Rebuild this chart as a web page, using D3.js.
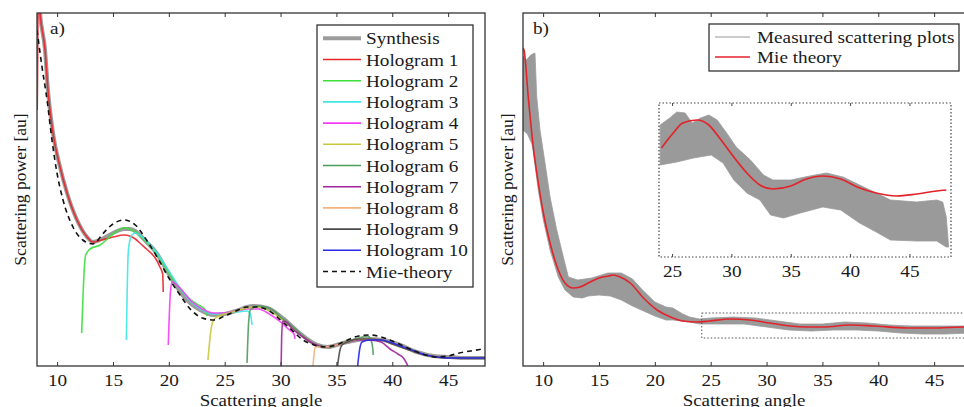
<!DOCTYPE html>
<html><head><meta charset="utf-8">
<script src="https://cdn.jsdelivr.net/npm/d3@7"></script>
</head><body style="margin:0">
<svg id="c" width="964" height="407"></svg>
<script>
// ---------------- DATA ----------------
const xTicks = [10, 15, 20, 25, 30, 35, 40, 45];
const insetTicks = [25, 30, 35, 40, 45];
const xLabel = "Scattering angle";
const yLabel = "Scattering power [au]";

// Panel a: [angle, scattering power (au)]
const synthesis = [[8.3,381],[8.47,353],[8.92,316],[9.18,276],[9.63,233],[10.26,199],[10.89,173],[11.78,146],[12.68,129],[13.2,124],[14,127],[15,133],[16,137],[16.5,137],[17,135],[17.5,130],[18,124],[18.9,113],[19.8,96],[20.7,79],[21.6,66],[22.8,56],[24,51],[25,52],[26,55],[27,59],[27.5,60],[28.8,58],[30.2,48],[31.7,33],[33.3,21],[34.2,19],[35.6,23],[37.7,27],[39.2,26],[40.7,21],[42.2,14],[43.7,10],[45.2,9],[46.5,8],[48.3,8]];
const mieA = [[8.2,336],[8.65,299],[9.1,266],[9.54,226],[9.99,193],[10.53,166],[11.42,139],[12.3,126],[13.2,122],[13.5,124],[14,131],[15,142],[16,146],[17,141],[18,126],[19,108],[20,88],[21,71],[22,56],[23,48],[24,46],[25,50],[26,55],[27,59],[28,59],[29,55],[30,46],[31,36],[32,26],[33,21],[34,19],[35,21],[36,26],[37,30],[38,31],[39,29],[40,25],[41,20],[42,15],[43,11],[44,9],[45,10],[46,13],[47,15],[48,17],[48.3,18]];
const hologram1 = [[8.22,256],[8.27,320],[8.3,381],[8.47,353],[8.92,316],[9.18,276],[9.63,233],[10.26,199],[10.89,173],[11.78,146],[12.68,129],[13.2,124],[14,126],[15,129],[16,131],[16.5,130],[17,127],[17.5,122],[18,117],[18.9,106],[19.2,99],[19.45,92],[19.5,74]];
const hologram2 = [[12.2,33],[12.45,100],[12.55,111],[12.95,117],[13.85,121],[15,132],[16,138],[17,134],[18,124],[19,111],[20,93],[21,77],[22,66],[22.5,62],[23.2,57],[23.45,50]];
const hologram3 = [[16.2,26],[16.35,110],[16.45,122],[16.7,131],[17,133],[18,125],[19,112],[20,95],[21,78],[22,64],[23,56],[24,52],[25,53],[26,54],[27,55],[27.3,52],[27.45,41]];
const hologram4 = [[19.95,21],[20.15,75],[20.3,84],[21,78],[22,65],[23,57],[24,53],[25,53],[26,55],[27,57],[28,57],[29,52],[30,44],[30.8,36],[31.2,32],[31.3,27]];
const hologram5 = [[23.5,6],[23.8,38],[24.0,46],[24.3,49],[25,52],[26,55],[27,58],[28,59],[29,55],[30,48],[31,38],[32,29],[33,22],[34,19],[35,21]];
const hologram6 = [[27.0,3],[27.15,45],[27.3,56],[28,60],[29,58],[30,49],[31,40],[32,30],[33,22],[34,19],[35,21],[36,25],[37,28],[37.8,30],[38.1,26],[38.25,18],[38.3,11]];
const hologram7 = [[30.05,0],[30.1,30],[30.2,45],[30.5,44],[31,38],[32,29],[33,22],[34,19],[35,21],[36,24],[37,26],[38,26],[39,24],[39.8,17],[40.5,12],[41.0,8],[41.4,0]];
const hologram8 = [[32.9,0],[33.0,12],[33.1,19],[34,19],[35,21],[36,24],[37,27],[38,27],[39,26],[40,22],[41,18],[42,14],[43,11],[44,9],[44.3,8]];
const hologram9 = [[35.1,0],[35.3,15],[35.5,21],[36,24],[37,27],[38,27],[39,26],[40,22],[41,18],[42,14],[43,11],[44,9],[45,8],[46,8],[47,8],[48.3,8]];
const hologram10 = [[36.9,0],[37.1,18],[37.3,24],[38,26],[39,26],[40,23],[41,19],[42,15],[43,11],[44,9],[45,8],[46,8],[47,8],[48.3,8]];
const holograms = [hologram1,hologram2,hologram3,hologram4,hologram5,hologram6,hologram7,hologram8,hologram9,hologram10];
const legendA = ["Synthesis","Hologram 1","Hologram 2","Hologram 3","Hologram 4","Hologram 5","Hologram 6","Hologram 7","Hologram 8","Hologram 9","Hologram 10","Mie-theory"];

// Panel b: Mie theory and envelope of measured plots
const mieB = [[8.2,318],[8.29,316],[8.67,269],[9.12,219],[9.57,183],[10.02,153],[10.62,123],[11.36,96],[11.96,83],[12.7,78],[13.3,79],[14.05,83],[15.0,88],[15.84,90],[16.3,91],[16.9,89],[17.8,83],[18.9,69],[20.2,56],[21.4,49],[22.5,45],[23.8,44],[24.9,45],[26.7,47],[28.5,46],[30.3,43],[32.1,40],[33.6,39],[35.1,39],[37.5,41],[39.6,40],[42.6,38],[44.9,38],[47.6,39],[48.3,39]];
const measuredUpper = [[8.2,310],[8.5,306],[8.9,311],[9.27,313],[9.43,269],[9.72,236],[10.17,203],[10.62,169],[11.22,136],[11.81,109],[12.26,89],[13.1,86],[14.35,88],[15.8,93],[17.0,93],[18.0,87],[18.9,76],[20.0,64],[21.0,59],[21.6,58],[22.5,52],[23.1,49],[24.0,47],[25,48],[27,49],[29,48],[31,45],[33,42],[35,42],[37,44],[39,43],[41,41],[43,40],[45,40],[48.3,40]];
const measuredLower = [[8.2,236],[8.6,232],[9.0,222],[9.12,214],[9.57,176],[10.02,146],[10.62,116],[11.36,89],[11.96,76],[12.7,69],[13.5,68],[14.05,70],[15,71],[16,70],[17,66],[18,60],[19,55],[20,50],[21,46],[21.6,46],[23.1,44],[24,42],[26,42],[28,42],[30,39],[32,36],[34,35],[36,36],[38,36],[40,35],[42,33],[44,32],[46,32],[48.3,33]];
const zoomWindow = {x0:24.2, x1:48.3, y0:28, y1:53};
// Inset (zoomed) values
const insetMie = [[24.1,109],[25.1,124],[25.9,134],[27.1,137],[28.1,132],[29.0,119],[30.2,100],[31.3,84],[32.4,72],[33.5,68],[35.0,71],[36.3,78],[37.7,81],[39.2,78],[40.6,70],[42.2,64],[43.9,61],[45.6,63],[47.3,66],[48.1,67]];
const insetUpper = [[24.0,132],[24.8,139],[25.4,145],[26.1,144],[26.7,134],[27.4,139],[28.1,142],[28.8,137],[29.6,124],[30.4,110],[31.6,97],[32.7,82],[33.5,77],[35.0,77],[36.6,81],[38.0,84],[39.4,80],[40.8,72],[42.2,64],[43.4,57],[45.6,55],[47.3,57],[47.8,55],[48.1,40],[48.3,10]];
const insetLower = [[24.0,92],[25.4,95],[26.8,99],[28.3,102],[29.3,94],[30.2,77],[31.3,64],[32.4,57],[33.3,42],[34.4,39],[35.8,44],[37.7,50],[39.2,47],[40.8,34],[42.2,25],[43.4,17],[45.6,16],[47.3,16],[48.1,10],[48.3,10]];
const legendB = ["Measured scattering plots","Mie theory"];

// ---------------- STYLE ----------------
const holoColors = ["#e8262a","#3be03b","#3fe6e6","#f53cf5","#c8c83c","#4c9a5c","#a0249e","#f5b27c","#4a4a4a","#2828e6"];
const synthColor = "#9c9c9c";
const FONT = '"Liberation Serif", monospace';
const SX = 1.13; // horizontal stretch of the original figure text
const FS = 17;

const svg = d3.select('#c');

function styleText(sel, size){
  sel.attr('font-size',size).attr('font-family',null).style('font-family',FONT).attr('fill','#1a1a1a');
  sel.each(function(){
    const w = this.getComputedTextLength();
    if (w > 0) d3.select(this).attr('textLength', w*SX).attr('lengthAdjust','spacingAndGlyphs');
  });
  return sel;
}
function txt(g, x, y, s, size, anchor){
  return styleText(g.append('text').attr('x',x).attr('y',y)
    .attr('text-anchor',anchor||'start').text(s), size);
}

function panel(id, left, right, top, bottom){
  const x = d3.scaleLinear().domain([8.2,48.3]).range([left,right]);
  const y = d3.scaleLinear().domain([0,353]).range([bottom,top]);
  const g = svg.append('g');
  svg.append('clipPath').attr('id',id).append('rect')
    .attr('x',left).attr('y',top).attr('width',right-left).attr('height',bottom-top);
  const plot = g.append('g').attr('clip-path',`url(#${id})`);
  const ax = g.append('g').attr('transform',`translate(0,${bottom})`)
    .call(d3.axisBottom(x).tickValues(xTicks).tickSize(-4).tickSizeOuter(0).tickPadding(8));
  ax.attr('font-family',null).style('font-family',FONT);
  ax.select('.domain').remove();
  ax.selectAll('line').attr('stroke','#333');
  styleText(ax.selectAll('text'), FS);
  const axT = g.append('g').attr('transform',`translate(0,${top})`)
    .call(d3.axisTop(x).tickValues(xTicks).tickSize(-4).tickSizeOuter(0).tickFormat(''));
  axT.select('.domain').remove();
  axT.selectAll('line').attr('stroke','#333');
  g.append('rect').attr('x',left).attr('y',top).attr('width',right-left).attr('height',bottom-top)
    .attr('fill','none').attr('stroke','#333').attr('stroke-width',1.3);
  return {x,y,g,plot};
}

// ---------------- PANEL A ----------------
const A = panel('clipA', 37, 485, 13, 366);
const lineA = d3.line().x(d=>A.x(d[0])).y(d=>A.y(d[1])).curve(d3.curveMonotoneX);
A.plot.append('path').attr('d',lineA(synthesis)).attr('fill','none').attr('stroke',synthColor).attr('stroke-width',4).attr('stroke-linejoin','round');
holograms.forEach((h,i)=>{
  A.plot.append('path').attr('d',lineA(h)).attr('fill','none').attr('stroke',holoColors[i]).attr('stroke-width',1.6).attr('opacity',0.9);
});
A.plot.append('path').attr('d',lineA(mieA)).attr('fill','none').attr('stroke','#111').attr('stroke-width',1.6).attr('stroke-dasharray','5,4');
txt(A.g, 50, 34, 'a)', FS);
txt(A.g, 261, 405.5, xLabel, 16.8, 'middle');
A.g.append('text').attr('transform','translate(26,189.5) rotate(-90)')
  .attr('text-anchor','middle').attr('font-size',17.6).style('font-family',FONT).attr('fill','#1a1a1a').text(yLabel);
const LA = A.g.append('g');
LA.append('rect').attr('x',317).attr('y',25).attr('width',156).attr('height',262)
  .attr('fill','#fff').attr('stroke','#333').attr('stroke-width',1.3);
legendA.forEach((name,i)=>{
  const yy = 38.3 + i*21.2;
  const ln = LA.append('line').attr('x1',323).attr('x2',361).attr('y1',yy).attr('y2',yy);
  if(i===0) ln.attr('stroke',synthColor).attr('stroke-width',4);
  else if(i===11) ln.attr('stroke','#111').attr('stroke-width',1.6).attr('stroke-dasharray','5,4');
  else ln.attr('stroke',holoColors[i-1]).attr('stroke-width',1.6);
  txt(LA, 366, yy+6, name, FS);
});

// ---------------- PANEL B ----------------
const B = panel('clipB', 523, 971, 13, 366);
const lineB = d3.line().x(d=>B.x(d[0])).y(d=>B.y(d[1])).curve(d3.curveMonotoneX);
const polyB = d3.line().x(d=>B.x(d[0])).y(d=>B.y(d[1])).curve(d3.curveLinearClosed);
B.plot.append('path').attr('d',polyB(measuredUpper.concat(measuredLower.slice().reverse())))
  .attr('fill','#9a9a9a').attr('stroke','#9a9a9a').attr('stroke-width',0.8);
B.plot.append('path').attr('d',lineB(mieB)).attr('fill','none').attr('stroke','#e3232a').attr('stroke-width',1.6);
B.plot.append('rect').attr('x',B.x(zoomWindow.x0)).attr('y',B.y(zoomWindow.y1))
  .attr('width',B.x(zoomWindow.x1)-B.x(zoomWindow.x0)).attr('height',B.y(zoomWindow.y0)-B.y(zoomWindow.y1))
  .attr('fill','none').attr('stroke','#555').attr('stroke-width',1).attr('stroke-dasharray','1.5,2');
txt(B.g, 533, 34, 'b)', FS);
txt(B.g, 744, 405.5, xLabel, 16.8, 'middle');
B.g.append('text').attr('transform','translate(513,189.5) rotate(-90)')
  .attr('text-anchor','middle').attr('font-size',17.6).style('font-family',FONT).attr('fill','#1a1a1a').text(yLabel);

// inset
const ix = d3.scaleLinear().domain([23.9,48.5]).range([659,951]);
const iy = d3.scaleLinear().domain([0,154]).range([257,103]);
svg.append('clipPath').attr('id','clipI').append('rect').attr('x',659).attr('y',103).attr('width',292).attr('height',154);
const IG = svg.append('g');
const IP = IG.append('g').attr('clip-path','url(#clipI)');
const polyI = d3.line().x(d=>ix(d[0])).y(d=>iy(d[1])).curve(d3.curveLinearClosed);
const lineI = d3.line().x(d=>ix(d[0])).y(d=>iy(d[1])).curve(d3.curveMonotoneX);
IP.append('path').attr('d',polyI(insetUpper.concat(insetLower.slice().reverse())))
  .attr('fill','#9a9a9a').attr('stroke','#9a9a9a').attr('stroke-width',0.8);
IP.append('path').attr('d',lineI(insetMie)).attr('fill','none').attr('stroke','#e3232a').attr('stroke-width',1.7);
const iax = IG.append('g').attr('transform','translate(0,257)')
  .call(d3.axisBottom(ix).tickValues(insetTicks).tickSize(-3).tickSizeOuter(0).tickPadding(8));
iax.attr('font-family',null).style('font-family',FONT);
iax.select('.domain').remove();
iax.selectAll('line').attr('stroke','#444');
styleText(iax.selectAll('text'), FS);
const iaxT = IG.append('g').attr('transform','translate(0,103)')
  .call(d3.axisTop(ix).tickValues(insetTicks).tickSize(-3).tickSizeOuter(0).tickFormat(''));
iaxT.select('.domain').remove();
iaxT.selectAll('line').attr('stroke','#444');
IG.append('rect').attr('x',659).attr('y',103).attr('width',292).attr('height',154)
  .attr('fill','none').attr('stroke','#444').attr('stroke-width',1.2).attr('stroke-dasharray','1.5,2');

const LB = B.g.append('g');
LB.append('rect').attr('x',709).attr('y',24).attr('width',250).attr('height',47)
  .attr('fill','#fff').attr('stroke','#333').attr('stroke-width',1.3);
legendB.forEach((name,i)=>{
  const yy = 37 + i*20;
  LB.append('line').attr('x1',715).attr('x2',750).attr('y1',yy).attr('y2',yy)
    .attr('stroke', i===0 ? '#9a9a9a' : '#e3232a').attr('stroke-width', i===0 ? 1.2 : 1.6);
  txt(LB, 757, yy+6, name, FS);
});
</script>
</body></html>
